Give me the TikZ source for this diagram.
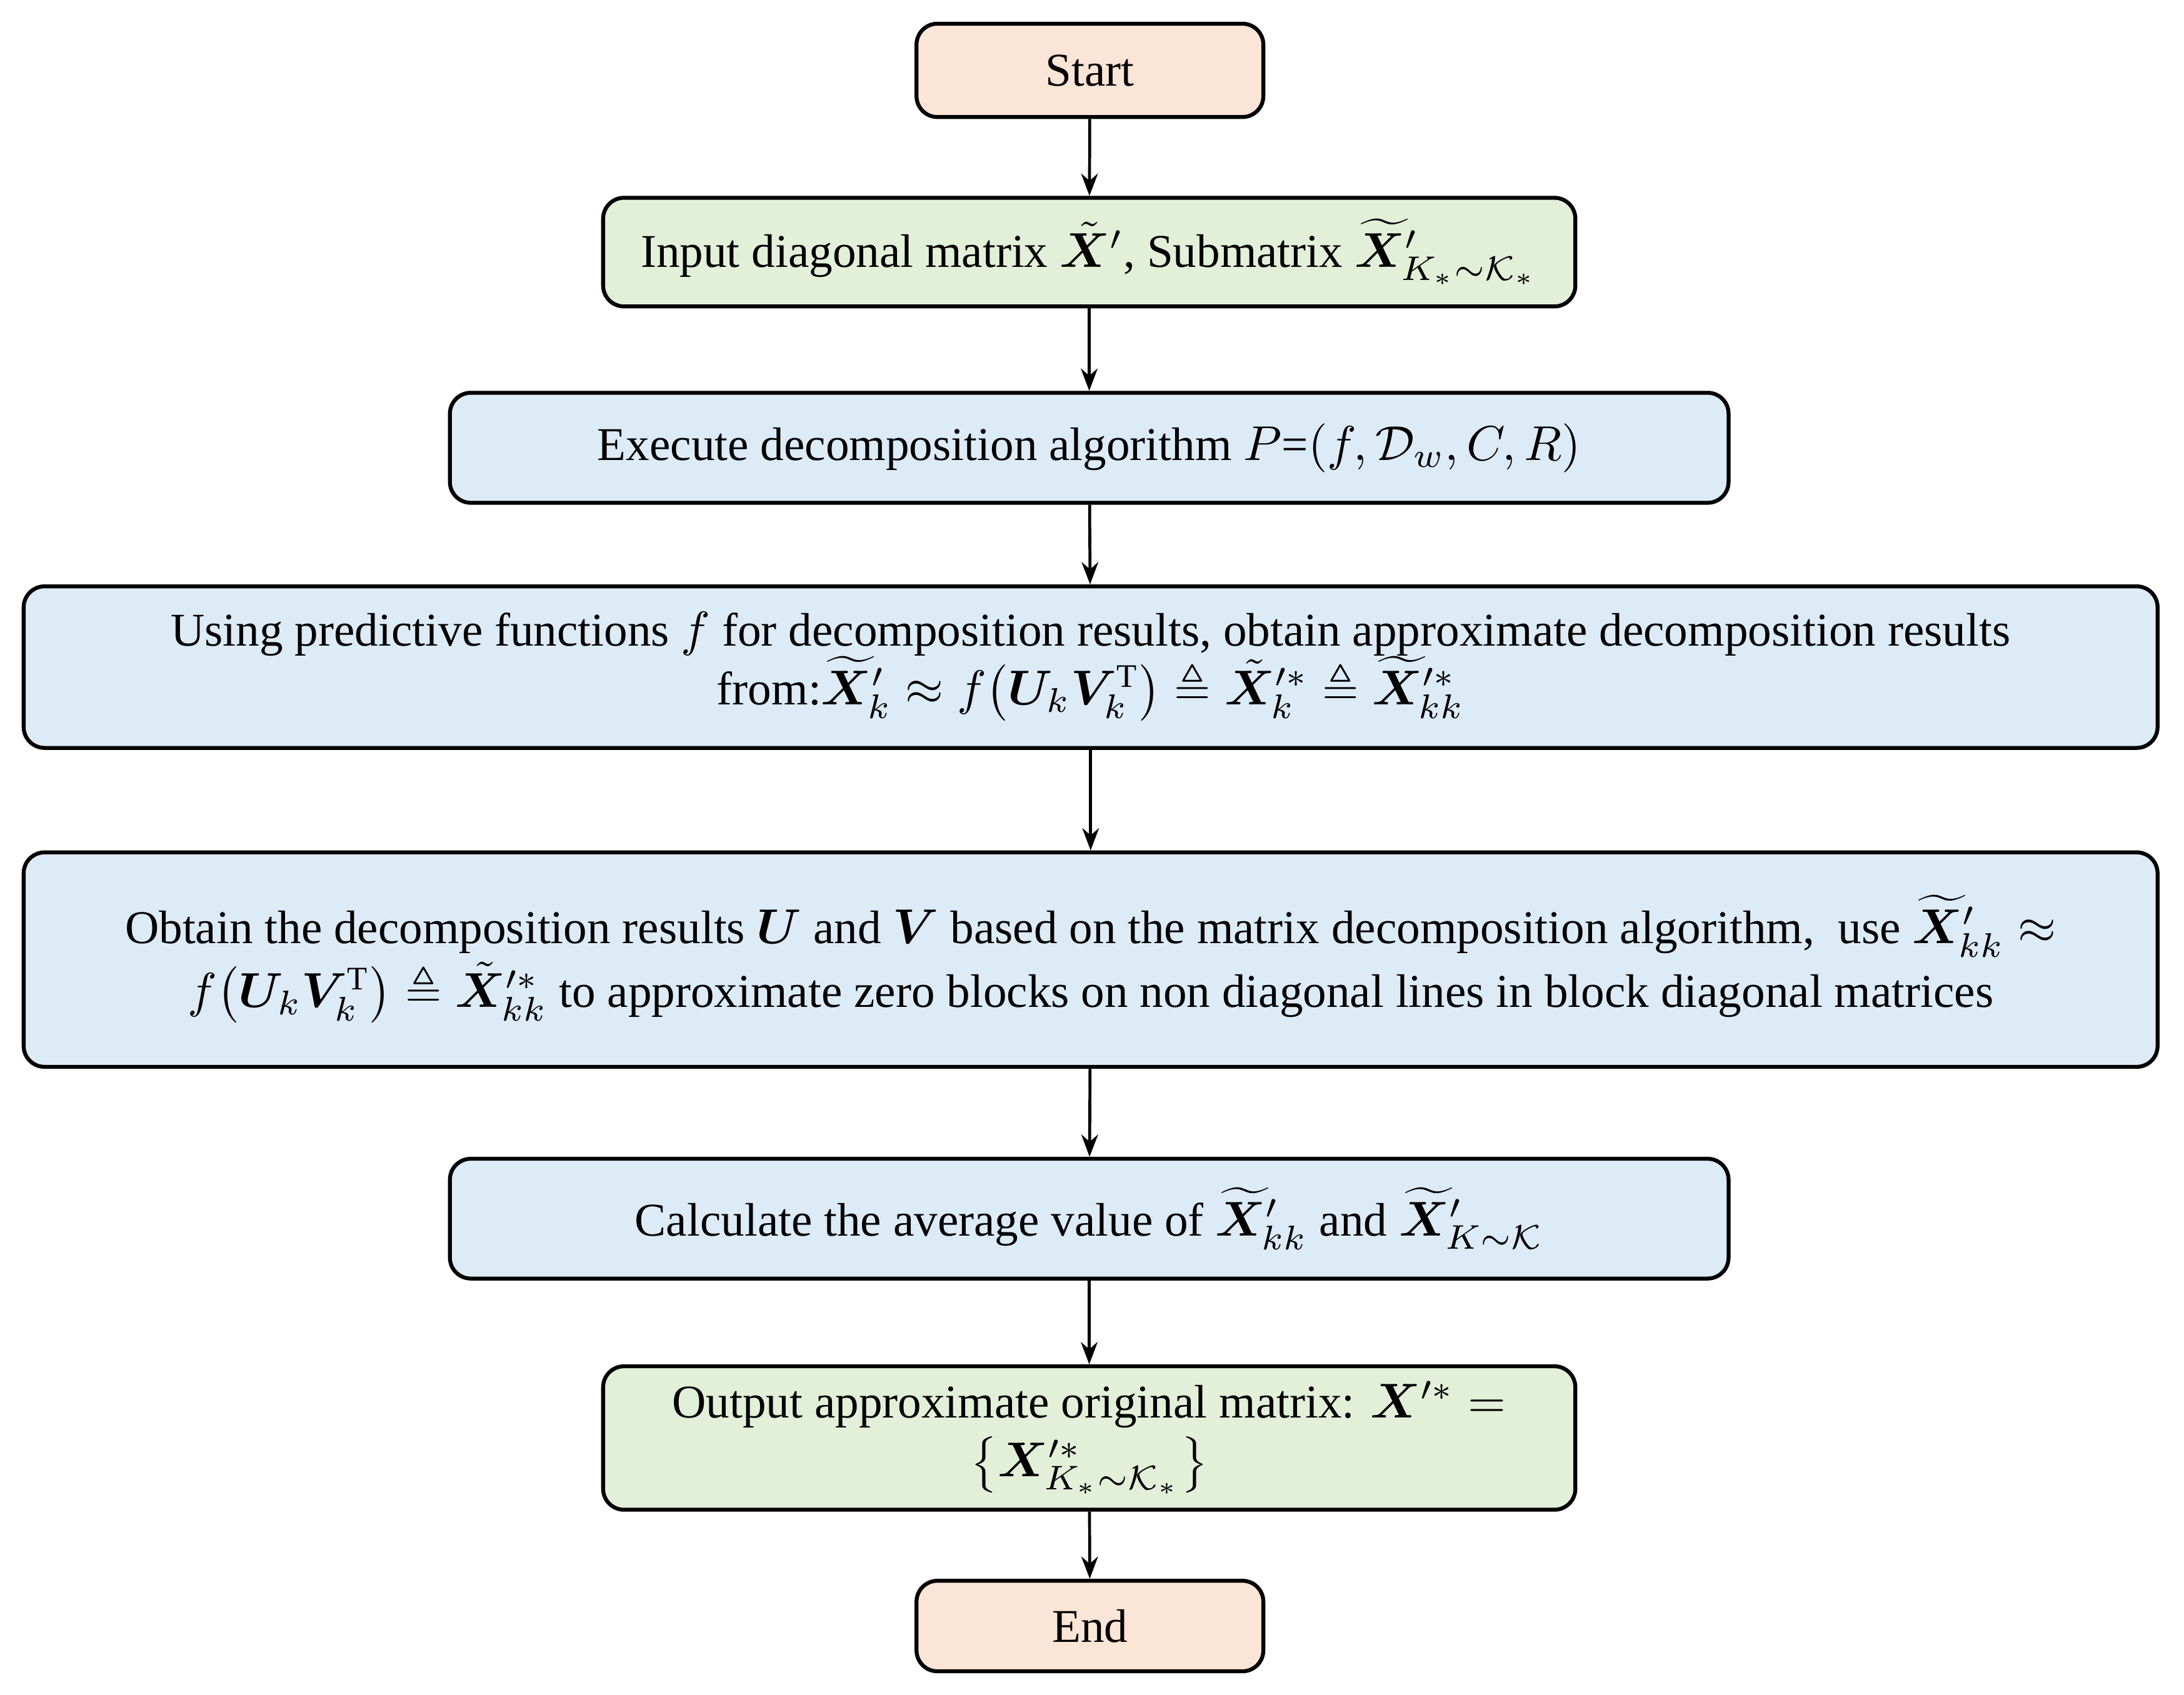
\documentclass[tikz,border=0pt]{standalone}
\usepackage{amsmath,amssymb,bm}
\usepackage{fontspec}
\setmainfont{Liberation Serif}
\usetikzlibrary{arrows.meta}
\definecolor{peach}{HTML}{FBE5D6}
\definecolor{lgreen}{HTML}{E2F0D9}
\definecolor{lblue}{HTML}{DDEBF7}
\begin{document}
\fontsize{9.6pt}{12pt}\selectfont
\begin{tikzpicture}[
  box/.style={draw=black,line width=0.8pt,rounded corners=0.15cm,align=center,inner sep=0pt},
  term/.style={box,fill=peach},
  io/.style={box,fill=lgreen},
  proc/.style={box,fill=lblue},
  arr/.style={-{Stealth[length=0.16cm,width=0.12cm]},line width=0.6pt}]
\useasboundingbox (0,0) rectangle (15.68,-12.17);
\node[term,minimum width=2.49cm,minimum height=0.67cm] (start) at (7.825,-0.505) {Start};
\node[io,minimum width=6.98cm,minimum height=0.78cm] (input) at (7.82,-1.81) {Input diagonal matrix $\tilde{\bm X}'$, Submatrix $\widetilde{\bm X}'_{K_*\sim\mathcal{K}_*}$};
\node[proc,minimum width=9.18cm,minimum height=0.79cm] (exec) at (7.82,-3.215) {Execute decomposition algorithm $P$=$(f,\mathcal{D}_w,C,R)$};
\node[proc,minimum width=15.32cm,minimum height=1.16cm] (using) at (7.83,-4.79) {Using predictive functions $f$ for decomposition results, obtain approximate decomposition results\\ from:$\widetilde{\bm X}'_k \approx f\bigl(\bm U_k \bm V_k^{\mathrm T}\bigr) \triangleq \tilde{\bm X}'^{*}_k \triangleq \widetilde{\bm X}'^{*}_{kk}$};
\node[proc,minimum width=15.32cm,minimum height=1.54cm] (obtain) at (7.83,-6.89) {Obtain the decomposition results $\bm U$ and $\bm V$ based on the matrix decomposition algorithm,\ \ use $\widetilde{\bm X}'_{kk}\approx$\\ $f\bigl(\bm U_k\bm V_{k}^{\mathrm T}\bigr)\triangleq\tilde{\bm X}'^{*}_{kk}$ to approximate zero blocks on non diagonal lines in block diagonal matrices};
\node[proc,minimum width=9.18cm,minimum height=0.86cm] (calc) at (7.82,-8.75) {Calculate the average value of $\widetilde{\bm X}'_{kk}$ and $\widetilde{\bm X}'_{K\sim\mathcal K}$};
\node[io,minimum width=6.98cm,minimum height=1.03cm] (output) at (7.82,-10.325) {Output approximate original matrix: $\bm X'^{*} =$\\ $\bigl\{\bm X'^{*}_{K_*\sim\mathcal K_*}\bigr\}$};
\node[term,minimum width=2.49cm,minimum height=0.65cm] (end) at (7.825,-11.675) {End};
\draw[arr] (start) -- (input);
\draw[arr] (input) -- (exec);
\draw[arr] (exec) -- (using);
\draw[arr] (using) -- (obtain);
\draw[arr] (obtain) -- (calc);
\draw[arr] (calc) -- (output);
\draw[arr] (output) -- (end);
\end{tikzpicture}
\end{document}
